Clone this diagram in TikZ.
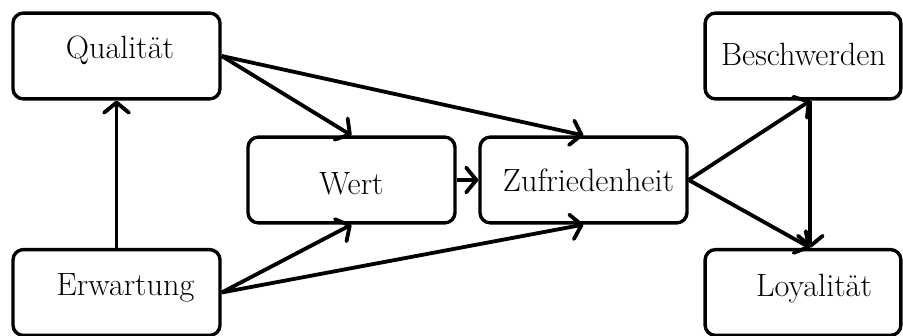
\documentclass[tikz,border=0pt]{standalone}
\usetikzlibrary{arrows.meta}
\tikzset{
  box/.style={draw,line width=2.3pt,rounded corners=0.25cm,minimum width=4.97cm,minimum height=2.06cm},
  rbox/.style={box,minimum width=4.7cm},
  txt/.style={font=\fontsize{22}{26}\selectfont,inner sep=0pt},
  pfeil/.style={->,>={Straight Barb[length=7pt,width=17pt,round]},line width=2.6pt}
}
\begin{document}
\begin{tikzpicture}[x=0.024cm,y=-0.024cm]
\useasboundingbox (0,0) rectangle (903,336);
% Kaesten
\node[box] (q) at (116.5,56) {};
\node[box] (e) at (116.5,292.5) {};
\node[box] (w) at (351.5,180) {};
\node[box] (z) at (583.5,180) {};
\node[rbox] (b) at (803,56) {};
\node[rbox] (l) at (803,292.5) {};
% Beschriftungen
\node[txt] (qt) at ([shift={(3.5,-6)}]q.center) {Qualität};
\node[txt] (et) at ([shift={(9,-5)}]e.center) {Erwartung};
\node[txt] (wt) at ([shift={(0,4)}]w.center) {Wert};
\node[txt] (zt) at ([shift={(5,0)}]z.center) {Zufriedenheit};
\node[txt] (bt) at ([shift={(0.5,-2)}]b.center) {Beschwerden};
\node[txt] (lt) at ([shift={(11,-3.5)}]l.center) {Loyalität};
% Pfeile
\draw[pfeil] (e.north)--(q.south);
\draw[pfeil] (q.east)--(w.north);
\draw[pfeil] (q.east)--(z.north);
\draw[pfeil] (e.east)--(w.south);
\draw[pfeil] (e.east)--(z.south);
\draw[pfeil] (w.east)--(z.west);
\draw[pfeil] (z.east)--([xshift=5]b.south);
\draw[pfeil] (z.east)--([xshift=5]l.north);
\draw[pfeil] ([xshift=5]b.south)--([xshift=5]l.north);
\end{tikzpicture}
\end{document}
